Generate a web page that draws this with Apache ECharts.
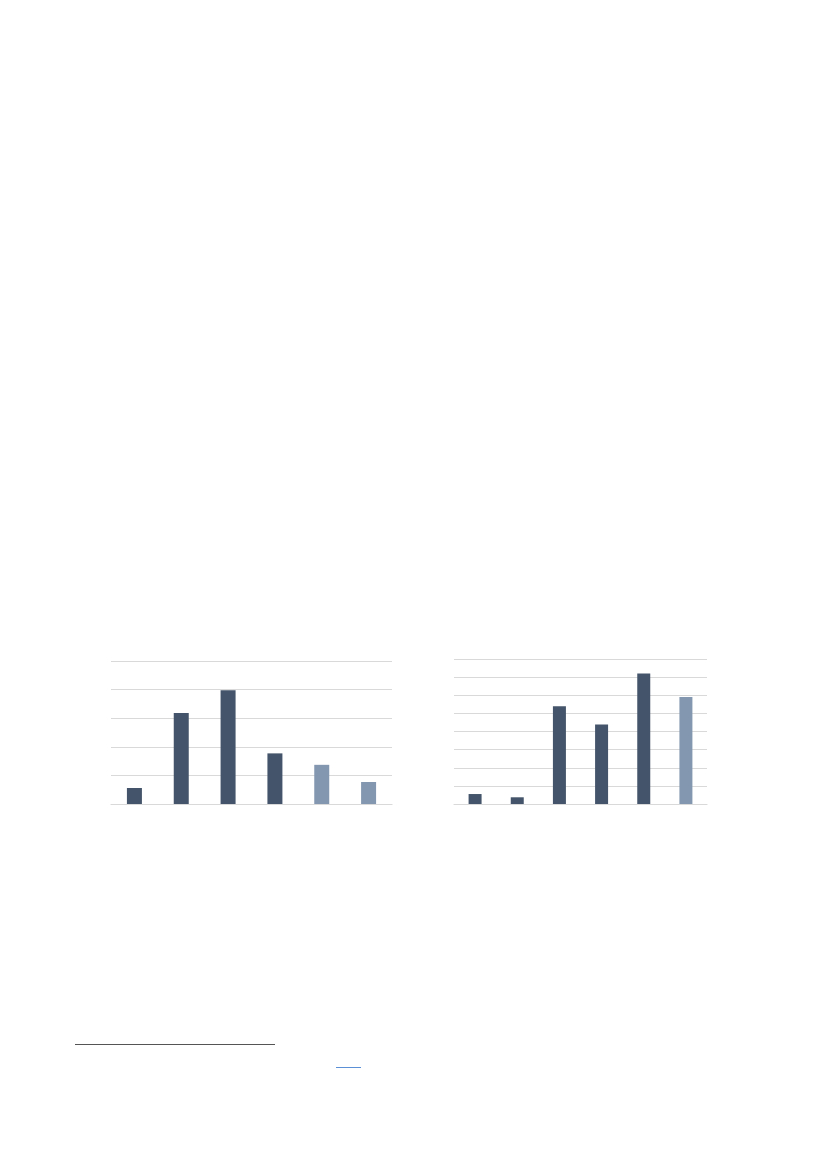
<!DOCTYPE html>
<html>
<head>
<meta charset="utf-8">
<script src="https://cdn.jsdelivr.net/npm/echarts@6/dist/echarts.min.js"></script>
<style>
  html, body { margin: 0; padding: 0; background: #ffffff; }
  #chart { width: 827px; height: 1169px; }
</style>
</head>
<body>
<div id="chart"></div>
<script>
// Left chart data
const leftCategories = ['1', '2', '3', '4', '5', '6'];
const leftValues = [0.56, 3.18, 3.98, 1.77, 1.37, 0.77];
const leftYTicks = [0, 1, 2, 3, 4, 5];

// Right chart data
const rightCategories = ['1', '2', '3', '4', '5', '6'];
const rightValues = [0.55, 0.37, 5.40, 4.39, 7.20, 5.90];
const rightYTicks = [0, 1, 2, 3, 4, 5, 6, 7, 8];

const DARK = '#44546A';
const LIGHT = '#8497B0';
const GRID = '#d9d9d9';

const chart = echarts.init(document.getElementById('chart'), null, { renderer: 'canvas' });

function yAxis(gridIndex, ticks) {
  return {
    type: 'value', gridIndex: gridIndex,
    min: ticks[0], max: ticks[ticks.length - 1], interval: ticks[1] - ticks[0],
    axisLabel: { show: false }, axisLine: { show: false }, axisTick: { show: false },
    splitLine: { show: true, lineStyle: { color: GRID, width: 1.2 } }
  };
}
function xAxis(gridIndex, cats) {
  return {
    type: 'category', gridIndex: gridIndex, data: cats,
    axisLabel: { show: false }, axisTick: { show: false },
    axisLine: { show: true, lineStyle: { color: GRID, width: 1.2 } }
  };
}

chart.setOption({
  animation: false,
  backgroundColor: '#ffffff',
  grid: [
    { left: 111, top: 661, width: 281, height: 143 },
    { left: 454, top: 659, width: 253, height: 145 }
  ],
  xAxis: [xAxis(0, leftCategories), xAxis(1, rightCategories)],
  yAxis: [yAxis(0, leftYTicks), yAxis(1, rightYTicks)],
  series: [
    {
      type: 'bar', xAxisIndex: 0, yAxisIndex: 0, data: leftValues,
      barWidth: 15,
      itemStyle: { color: function (p) { return p.dataIndex >= 4 ? LIGHT : DARK; } }
    },
    {
      type: 'bar', xAxisIndex: 1, yAxisIndex: 1, data: rightValues,
      barWidth: 13,
      itemStyle: { color: function (p) { return p.dataIndex === 5 ? LIGHT : DARK; } }
    }
  ],
  graphic: [
    { type: 'line', shape: { x1: 75, y1: 1044.5, x2: 275, y2: 1044.5 }, style: { stroke: '#555555', lineWidth: 1.2 } },
    { type: 'line', shape: { x1: 336, y1: 1067.5, x2: 361, y2: 1067.5 }, style: { stroke: '#5b8fd6', lineWidth: 1 } }
  ]
});
</script>
</body>
</html>
